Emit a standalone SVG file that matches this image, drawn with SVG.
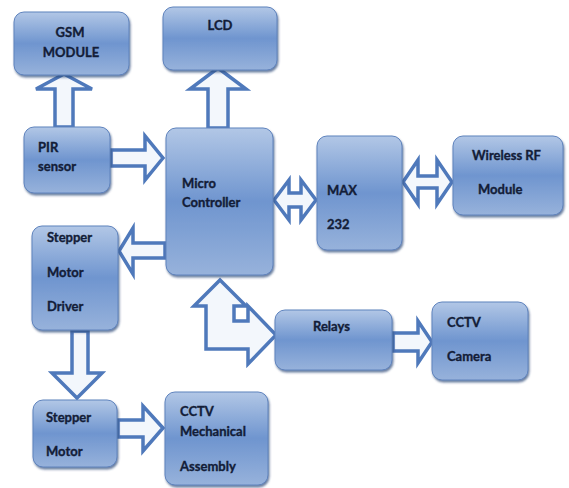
<svg xmlns="http://www.w3.org/2000/svg" width="569" height="488" viewBox="0 0 569 488">
<defs>
<linearGradient id="bg" x1="0" y1="0" x2="0" y2="1">
<stop offset="0" stop-color="#b2c7e6"/>
<stop offset="0.5" stop-color="#6f95cf"/>
<stop offset="1" stop-color="#97b2db"/>
</linearGradient>
<filter id="sh" x="-10%" y="-10%" width="125%" height="125%">
<feDropShadow dx="1" dy="2" stdDeviation="1.2" flood-color="#2b4677" flood-opacity="0.7"/>
</filter>
<style>
.box{fill:url(#bg);stroke:#5f83bd;stroke-width:1;filter:url(#sh)}
.t{font-family:Lato,"Liberation Sans",sans-serif;font-weight:bold;font-size:13px;fill:#131d38;stroke:#131d38;stroke-width:0.35}
.m{text-anchor:middle}
.ar{fill:#f3f7fc;stroke:#4f79bb;stroke-width:3.5;stroke-linejoin:miter}
</style>
</defs>
<rect width="569" height="488" fill="#ffffff"/>

<g id="connectors">
<polygon class="ar" points="64,74 92,89 73,89 73,127 55,127 55,89 36,89"/>
<polygon class="ar" points="218,68 246,89 228,89 228,128 208,128 208,89 190,89"/>
<polygon class="ar" points="163,158 145,180 145,166 111,166 111,150 145,150 145,136"/>
<polygon class="ar" points="274,200 289,180 289,193 301,193 301,180 316,200 301,220 301,207 289,207 289,220"/>
<polygon class="ar" points="403,182 418,160 418,176 437,176 437,160 452,182 437,204 437,188 418,188 418,204"/>
<polygon class="ar" points="119,251 133,228 133,243 165,243 165,258 133,258 133,274"/>
<polygon class="ar" points="77,398 102,373 88,373 88,331 72,331 72,373 52,373"/>
<polygon class="ar" points="163,428 143,406 143,420 118,420 118,437 143,437 143,451"/>
<polygon class="ar" points="220,280 246,306 234,306 234,321 248,321 248,306 276,335 248,364 248,349 206,349 206,306 194,306"/>
<polygon class="ar" points="432,342 418,321 418,333 393,333 393,351 418,351 418,363"/>
</g>

<g id="gsm"><rect class="box" x="14" y="12" width="115" height="63" rx="10"/>
<text class="t m" x="70" y="37">GSM</text><text class="t m" x="71" y="57">MODULE</text></g>

<g id="lcd"><rect class="box" x="163" y="7" width="114" height="63" rx="10"/>
<text class="t m" x="220" y="30">LCD</text></g>

<g id="pir"><rect class="box" x="24" y="127" width="86" height="66" rx="10"/>
<text class="t" x="38" y="152">PIR</text><text class="t" x="38" y="171">sensor</text></g>

<g id="mc"><rect class="box" x="166" y="128" width="107" height="147" rx="10"/>
<text class="t" x="182" y="188">Micro</text><text class="t" x="182" y="207">Controller</text></g>

<g id="max"><rect class="box" x="317" y="136" width="85" height="114" rx="10"/>
<text class="t" x="327" y="195">MAX</text><text class="t" x="327" y="229">232</text></g>

<g id="rf"><rect class="box" x="453" y="136" width="110" height="79" rx="10"/>
<text class="t" x="472" y="160">Wireless RF</text><text class="t" x="478" y="194">Module</text></g>

<g id="smd"><rect class="box" x="32" y="226" width="86" height="104" rx="10"/>
<text class="t" x="47" y="242">Stepper</text><text class="t" x="47" y="277">Motor</text><text class="t" x="47" y="311">Driver</text></g>

<g id="sm"><rect class="box" x="33" y="400" width="84" height="67" rx="10"/>
<text class="t" x="46" y="422">Stepper</text><text class="t" x="46" y="456">Motor</text></g>

<g id="cma"><rect class="box" x="165" y="392" width="103" height="93" rx="10"/>
<text class="t" x="180" y="416">CCTV</text><text class="t" x="180" y="436">Mechanical</text><text class="t" x="180" y="471">Assembly</text></g>

<g id="relays"><rect class="box" x="275" y="310" width="117" height="60" rx="10"/>
<text class="t" x="313" y="331">Relays</text></g>

<g id="cam"><rect class="box" x="432" y="302" width="96" height="78" rx="10"/>
<text class="t" x="447" y="327">CCTV</text><text class="t" x="447" y="361">Camera</text></g>
</svg>
